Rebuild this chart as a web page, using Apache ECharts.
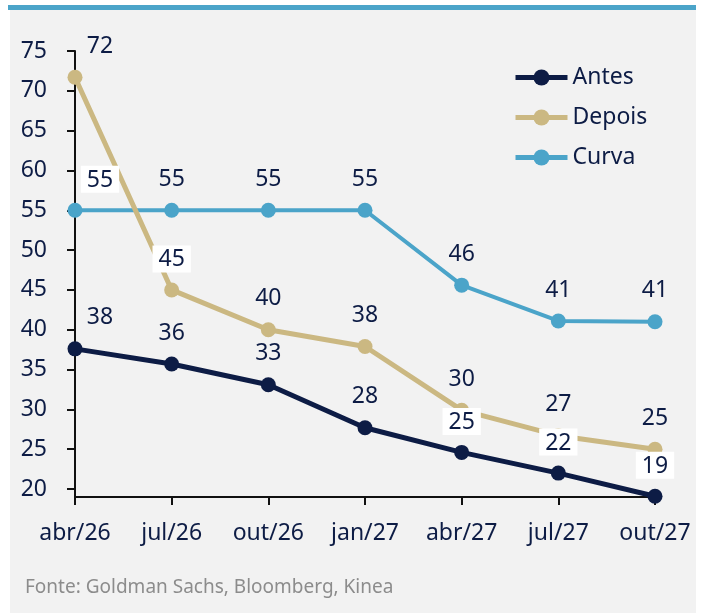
<!DOCTYPE html>
<html>
<head>
<meta charset="utf-8">
<script src="https://cdn.jsdelivr.net/npm/echarts@6/dist/echarts.min.js"></script>
<style>
  html, body { margin: 0; padding: 0; background: #fff; }
  #main { width: 710px; height: 615px; }
</style>
</head>
<body>
<div id="main"></div>
<script>
const months = ['abr/26', 'jul/26', 'out/26', 'jan/27', 'abr/27', 'jul/27', 'out/27'];
const antes = [37.6, 35.7, 33.1, 27.7, 24.6, 22.0, 19.1];
const depois = [71.7, 45.0, 40.0, 37.9, 29.9, 26.7, 25.0];
const curva = [55, 55, 55, 55, 45.6, 41.1, 41.0];
const yTicks = [20, 25, 30, 35, 40, 45, 50, 55, 60, 65, 70, 75];

const navy = '#0d1c45';
const font = 'Noto Sans';

// points whose value label sits on a white box
const boxed = { Antes: [4, 5, 6], Depois: [1], Curva: [0] };

function makeSeries(name, values, color, width) {
  return {
    name: name,
    type: 'line',
    symbol: 'circle',
    symbolSize: 15,
    lineStyle: { color: color, width: width },
    itemStyle: { color: color },
    label: {
      show: true,
      position: 'top',
      distance: 12,
      color: navy,
      fontFamily: font,
      fontSize: 23,
      formatter: p => Math.round(p.value)
    },
    data: values.map((v, i) => {
      const lab = {};
      if (i === 0) lab.offset = [25, 0]; // first labels pushed off the axis
      if (boxed[name].indexOf(i) >= 0) {
        lab.backgroundColor = '#fff';
        lab.padding = [3, 6, 1, 6];
        lab.distance = 10;
      }
      return { value: v, label: lab };
    })
  };
}

const chart = echarts.init(document.getElementById('main'));

chart.setOption({
  backgroundColor: '#fff',
  animation: false,
  graphic: [
    { type: 'rect', z: -10, shape: { x: 10, y: 10, width: 686, height: 603 }, style: { fill: '#f2f2f2' } },
    { type: 'rect', z: -10, shape: { x: 8, y: 5, width: 688, height: 5 }, style: { fill: '#4ba4c9' } },
    {
      type: 'text', left: 25, top: 578,
      style: { text: 'Fonte: Goldman Sachs, Bloomberg, Kinea', fill: '#8c8c8c', font: '19px "Noto Sans"' }
    }
  ],
  legend: {
    orient: 'vertical',
    left: 508,
    top: 61,
    itemWidth: 52,
    itemHeight: 20,
    itemGap: 17,
    lineStyle: { width: 5 },
    textStyle: { color: navy, fontFamily: font, fontSize: 23 },
    data: ['Antes', 'Depois', 'Curva']
  },
  grid: { left: 75, right: 55, top: 51, bottom: 118 },
  xAxis: {
    type: 'category',
    data: months,
    boundaryGap: false,
    axisLine: { lineStyle: { color: '#111', width: 2 } },
    axisTick: { length: 8, lineStyle: { color: '#111', width: 2 } },
    axisLabel: { color: navy, fontFamily: font, fontSize: 23, margin: 25 }
  },
  yAxis: {
    type: 'value',
    min: 19,
    max: 75,
    splitLine: { show: false },
    axisLine: { show: true, lineStyle: { color: '#111', width: 2 } },
    axisTick: { show: true, length: 8, customValues: yTicks, lineStyle: { color: '#111', width: 2 } },
    axisLabel: { color: navy, fontFamily: font, fontSize: 23, margin: 28, customValues: yTicks }
  },
  series: [
    makeSeries('Curva', curva, '#4ba4c9', 4),
    makeSeries('Depois', depois, '#cbb882', 5),
    makeSeries('Antes', antes, '#0d1c45', 5)
  ]
});
</script>
</body>
</html>
